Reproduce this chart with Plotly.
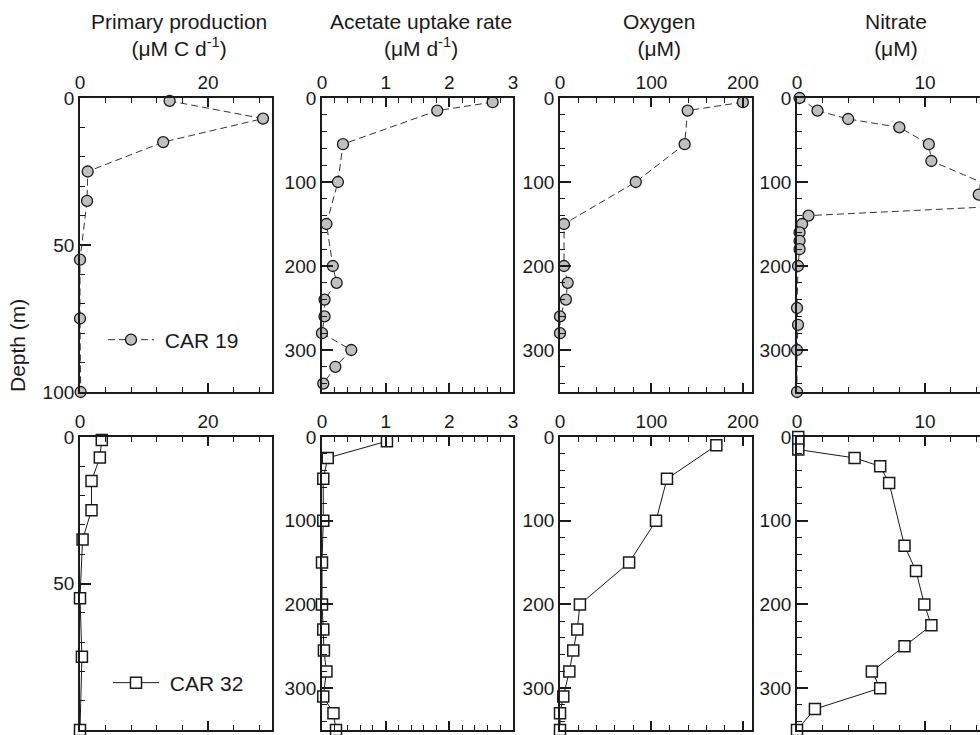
import plotly.graph_objects as go

# ---------------- data ----------------
panel_titles = ["Primary production<br>(μM C d<sup>-1</sup>)", "Acetate uptake rate<br>(μM d<sup>-1</sup>)",
                "Oxygen<br>(μM)", "Nitrate<br>(μM)"]

# CAR 19 (top row)
pp_depth_19 = [1, 7, 15, 25, 35, 55, 75, 100]
pp_19 = [14.0, 28.6, 13.0, 1.2, 1.1, 0.0, 0.0, 0.1]
ac_depth_19 = [5, 15, 55, 100, 150, 200, 220, 240, 260, 280, 300, 320, 340]
ac_19 = [2.68, 1.81, 0.33, 0.25, 0.07, 0.17, 0.23, 0.04, 0.04, 0.0, 0.46, 0.21, 0.02]
ox_depth_19 = [5, 15, 55, 100, 150, 200, 220, 240, 260, 280]
ox_19 = [200, 139.6, 136.3, 82.9, 4.4, 4.4, 8.4, 6.5, 0.0, 0.0]
ni_depth_19 = [0, 15, 25, 35, 55, 75, 100, 115, 130, 140, 150, 160, 170, 180, 200, 250, 270, 300, 350]
ni_19 = [0.2, 1.6, 4.0, 8.0, 10.3, 10.5, 14.35, 14.2, 14.45, 0.9, 0.4, 0.2, 0.2, 0.2, 0.08, 0.0, 0.08, 0.0, 0.0]

# CAR 32 (bottom row)
pp_depth_32 = [1, 7, 15, 25, 35, 55, 75, 100]
pp_32 = [3.4, 3.1, 1.8, 1.8, 0.4, 0.0, 0.3, 0.0]
ac_depth_32 = [5, 25, 50, 100, 150, 200, 230, 255, 280, 310, 330, 350]
ac_32 = [1.02, 0.09, 0.02, 0.02, 0.0, 0.0, 0.02, 0.03, 0.07, 0.02, 0.18, 0.22]
ox_depth_32 = [10, 50, 100, 150, 200, 230, 255, 280, 310, 330, 350]
ox_32 = [171, 117, 105, 75.6, 21.8, 18.9, 14.5, 10.2, 3.6, 0.0, 0.0]
ni_depth_32 = [0, 5, 15, 25, 35, 55, 130, 160, 200, 225, 250, 280, 300, 325, 350]
ni_32 = [0.1, 0.1, 0.1, 4.5, 6.5, 7.2, 8.4, 9.3, 9.95, 10.5, 8.4, 5.85, 6.5, 1.4, 0.0]

series_19 = [(pp_19, pp_depth_19), (ac_19, ac_depth_19), (ox_19, ox_depth_19), (ni_19, ni_depth_19)]
series_32 = [(pp_32, pp_depth_32), (ac_32, ac_depth_32), (ox_32, ox_depth_32), (ni_32, ni_depth_32)]

# ---------------- layout geometry ----------------
W, H = 980, 735
FONT = "Liberation Sans, Arial, Helvetica, sans-serif"
INK = "#1a1a1a"
NB = "\u00a0"

x_px = [(80, 272), (322, 513), (560, 752), (797, 980)]
row_px = [(98, 392), (437, 730)]
x_ranges = [[0, 30], [0, 3], [0, 210], [0, 14.3]]
x_dtick = [20, 1, 100, 10]
x_minor = [4, 0.2, 20, 2]
y_ranges = [[100, 0], [350, 0], [350, 0], [350, 0]]
y_dtick = [50, 100, 100, 100]
y_minor = [10, 20, 20, 20]

fig = go.Figure()
layout = {}

for r, series in enumerate([series_19, series_32]):
    for i, (xs, ds) in enumerate(series):
        k = r * 4 + i + 1
        xa = "x" if k == 1 else f"x{k}"
        ya = "y" if k == 1 else f"y{k}"
        if r == 0:
            line = dict(color="#333333", width=1, dash="7px,4px")
            marker = dict(symbol="circle", size=11, color="#c0c0c0", line=dict(color=INK, width=1.3))
            name = NB + "CAR 19"
            leg = "legend"
        else:
            line = dict(color=INK, width=1)
            marker = dict(symbol="square", size=11, color="white", line=dict(color=INK, width=1.5))
            name = NB + "CAR 32"
            leg = "legend2"
        fig.add_trace(go.Scatter(
            x=xs, y=ds, mode="lines+markers", line=line, marker=marker,
            name=name, showlegend=(i == 0), legend=leg,
            xaxis=xa, yaxis=ya, cliponaxis=False,
        ))
        x0, x1 = x_px[i]
        y0, y1 = row_px[r]
        xkey = "xaxis" if k == 1 else f"xaxis{k}"
        ykey = "yaxis" if k == 1 else f"yaxis{k}"
        layout[xkey] = dict(
            domain=[x0 / W, x1 / W], anchor=ya, range=x_ranges[i], side="top",
            showline=True, linecolor=INK, linewidth=1.8, mirror="allticks", automargin=False,
            ticks="inside", ticklen=9, tickwidth=1.5, tickcolor=INK, dtick=x_dtick[i], tick0=0,
            minor=dict(dtick=x_minor[i], tick0=0, ticks="inside", ticklen=5, tickwidth=1.3, tickcolor=INK),
            showgrid=False, zeroline=False, tickfont=dict(size=19, color=INK, family=FONT),
            fixedrange=True,
        )
        layout[ykey] = dict(
            domain=[1 - y1 / H, 1 - y0 / H], anchor=xa, range=y_ranges[i], automargin=False,
            showline=True, linecolor=INK, linewidth=1.8, mirror=(i != 3),
            ticks="inside", ticklen=11, tickwidth=1.5, tickcolor=INK, dtick=y_dtick[i], tick0=0,
            minor=dict(dtick=y_minor[i], tick0=0, ticks="inside", ticklen=5, tickwidth=1.3, tickcolor=INK),
            showgrid=False, zeroline=False, tickfont=dict(size=19, color=INK, family=FONT),
            fixedrange=True,
        )

annotations = []
for i, t in enumerate(panel_titles):
    cx = (x_px[i][0] + x_px[i][0] + 192) / 2 / W + 3 / W
    annotations.append(dict(text=t, x=cx, y=1 - 8 / H, xref="paper", yref="paper",
                            xanchor="center", yanchor="top", showarrow=False,
                            font=dict(size=21, color=INK, family=FONT)))
annotations.append(dict(text="Depth (m)", x=18 / W, y=1 - 346 / H, xref="paper", yref="paper",
                        textangle=-90, xanchor="center", yanchor="middle", showarrow=False,
                        font=dict(size=21, color=INK, family=FONT)))

fig.update_layout(
    width=W, height=H, margin=dict(l=0, r=0, t=0, b=0, autoexpand=False),
    paper_bgcolor="white", plot_bgcolor="white",
    font=dict(family=FONT, color=INK),
    annotations=annotations,
    legend=dict(x=103 / W, y=1 - 340 / H, xanchor="left", yanchor="middle",
                bgcolor="rgba(0,0,0,0)", font=dict(size=21, family=FONT, color=INK), itemwidth=46),
    legend2=dict(x=108 / W, y=1 - 683 / H, xanchor="left", yanchor="middle",
                 bgcolor="rgba(0,0,0,0)", font=dict(size=21, family=FONT, color=INK), itemwidth=46),
    **layout,
)

fig.write_html("out.html", config={"displayModeBar": False},
               post_script="document.body.style.margin='0';document.body.style.overflow='hidden';")
